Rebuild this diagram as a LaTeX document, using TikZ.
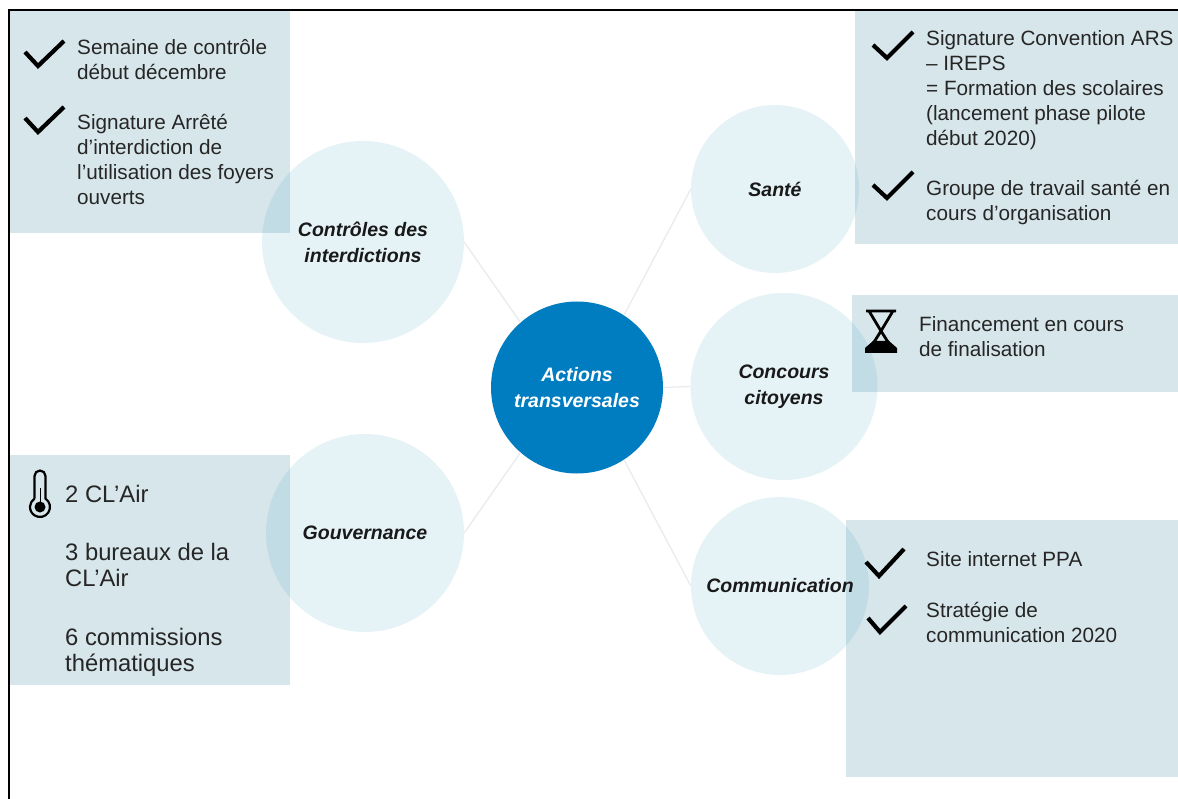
\documentclass[tikz,border=0pt]{standalone}
\usepackage{fontspec}
\setmainfont{Liberation Sans}
\definecolor{panelc}{HTML}{D7E6EA}
\definecolor{circc}{RGB}{0,140,185}
\definecolor{hubc}{HTML}{007DC0}
\definecolor{txtc}{HTML}{262626}
\definecolor{linkc}{HTML}{E8ECEE}
\tikzset{
  panel/.style={fill=panelc,draw=none},
  topic/.style={circle,inner sep=0pt,fill=circc,fill opacity=0.1,text opacity=1,text=black!90,align=center,
    font=\fontsize{19.5}{26}\selectfont\bfseries\itshape},
  hub/.style={circle,inner sep=0pt,fill=hubc,text=white,align=center,
    font=\fontsize{19.5}{26}\selectfont\bfseries\itshape},
  link/.style={draw=linkc,line width=1.3pt},
  body/.style={anchor=west,inner sep=0pt,align=left,text=txtc,font=\fontsize{20.7}{25}\selectfont},
  bodybig/.style={anchor=west,inner sep=0pt,align=left,text=txtc,font=\fontsize{23.8}{26}\selectfont},
  tick/.style={draw=black,line width=4.2pt,line join=miter},
  icon/.style={draw=black,line width=2.8pt}
}
\begin{document}
\begin{tikzpicture}[x=1pt,y=-1pt]
\useasboundingbox (0,0) rectangle (1178,799);
\fill[white] (0,0) rectangle (1178,799);
% panels
\path[panel] (9,11) rectangle (290,233);
\path[panel] (9,455) rectangle (290,685);
\path[panel] (855,11) rectangle (1178,244);
\path[panel] (852,295) rectangle (1178,392);
\path[panel] (846,520) rectangle (1178,777);
% frame
\draw[black,line width=2pt] (9,799) -- (9,10) -- (1178,10);
% circles
\node[topic,minimum size=202pt] (ctrl) at (363,242) {Contrôles des\\interdictions};
\node[topic,minimum size=198pt] (gouv) at (365,533) {Gouvernance};
\node[topic,minimum size=168pt] (sante) at (775,189) {Santé};
\node[topic,minimum size=187pt] (conc) at (784,386.5) {Concours\\citoyens};
\node[topic,minimum size=178pt] (comm) at (780,586) {Communication};
\node[hub,minimum size=172pt] (hub) at (577,387.5) {Actions\\transversales};
% connectors
\draw[link] (hub.131) -- (ctrl.east);
\draw[link] (hub.229) -- (gouv.east);
\draw[link] (hub.57) -- (sante.west);
\draw[link] (hub.east) -- (conc.west);
\draw[link] (hub.303) -- (comm.west);
% panel text
\node[body] (t1) at (77,59.5) {Semaine de contrôle\\début décembre};
\node[body] (t2) at (77,159.5) {Signature Arrêté\\d’interdiction de\\l’utilisation des foyers\\ouverts};
\node[body] (t3) at (926,90) {Signature Convention ARS\\– IREPS\\= Formation des scolaires\\(lancement phase pilote\\début 2020)};
\node[body] (t4) at (926,203) {Groupe de travail santé en\\cours d’organisation};
\node[body] (t5) at (919,337) {Financement en cours\\de finalisation};
\node[body] (t6) at (926,559) {Site internet PPA};
\node[body] (t7) at (926,622) {Stratégie de\\communication 2020};
\node[bodybig] (t8) at (65,493.5) {2 CL’Air};
\node[bodybig] (t9) at (65,565) {3 bureaux de la\\CL’Air};
\node[bodybig] (t10) at (65,652) {6 commissions\\thématiques};
% ticks
\draw[tick] (25,52) -- (38,66) -- (64,41);
\draw[tick] (25,118) -- (38,132) -- (64,107);
\draw[tick] (873,45) -- (887,58) -- (913,32);
\draw[tick] (873,185) -- (887,198) -- (913,172);
\draw[tick] (866,562) -- (879,576) -- (904,549);
\draw[tick] (868,618) -- (880,632) -- (906,606);
% hourglass
\draw[icon] (866,311) -- (896,311) (869,311) -- (881,331) -- (869,350) (893,311) -- (881,331) -- (893,350);
\fill[black] (865,353) -- (897,353) -- (897,348) -- (889,341) -- (873,341) -- (865,348) -- cycle;
% thermometer
\draw[icon,line width=2.2pt] (34.5,498.65) -- (34.5,476) arc (180:360:5.5) -- (45.5,498.65) arc (-56.6:236.6:10);
\fill[black] (40,507) circle (5.5);
\draw[black,line width=1pt] (40,488) -- (40,503);
\end{tikzpicture}
\end{document}
